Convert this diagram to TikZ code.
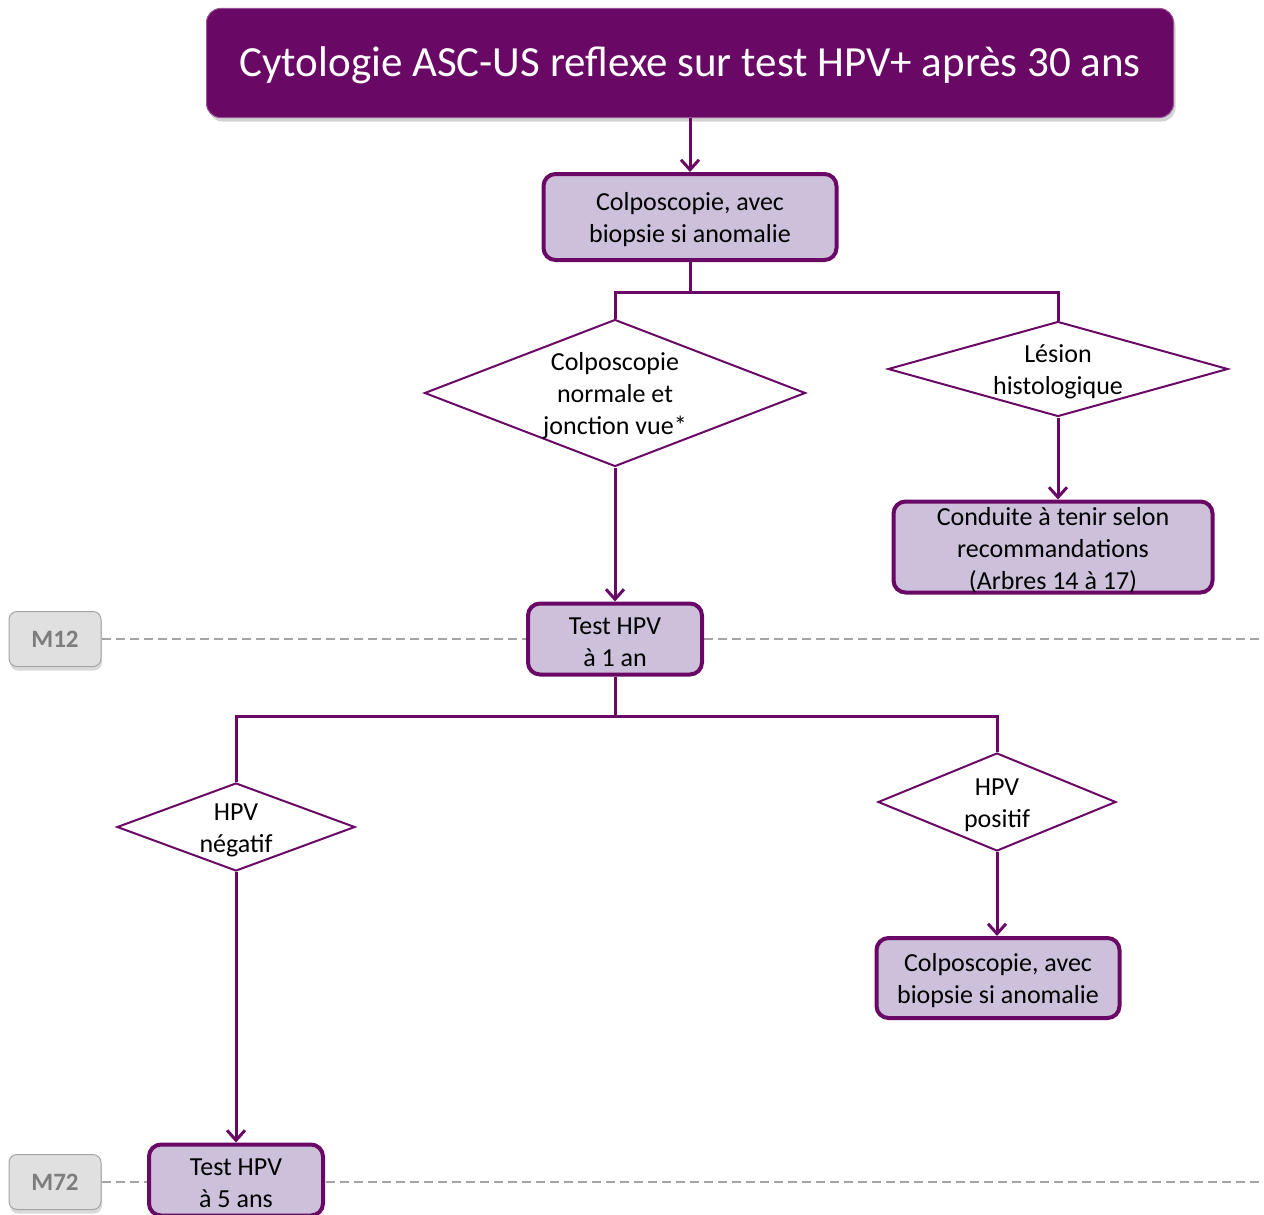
\documentclass[tikz,border=0pt]{standalone}
\usepackage{fontspec}
\setmainfont{Carlito}
\usetikzlibrary{shadows,arrows.meta,shapes.geometric}
\pgfdeclarelayer{background}
\pgfsetlayers{background,main}
\definecolor{violetfonce}{RGB}{106,8,102}
\definecolor{violetclair}{RGB}{204,192,218}
\definecolor{grisfond}{RGB}{224,224,224}
\definecolor{gristexte}{RGB}{125,125,125}
\tikzstyle{titre}=[draw=violetfonce!70!white, line width=1pt, fill=violetfonce, text=white,
	rounded corners=14pt, minimum width=967pt, minimum height=109pt,
	text height=37pt, text depth=9pt, font=\fontsize{43}{50}\selectfont,
	drop shadow={shadow xshift=2pt, shadow yshift=-4pt, opacity=0.35}]
\tikzstyle{etape}=[draw=violetfonce, line width=4pt, fill=violetclair, rounded corners=12pt,
	inner sep=0pt]
\tikzstyle{choix}=[draw=violetfonce, line width=2pt, fill=white, diamond, inner sep=0pt]
\tikzstyle{texte}=[align=center, inner sep=0pt, yshift=-3pt, font=\fontsize{26}{32}\selectfont]
\tikzstyle{mois}=[draw=gristexte!70, line width=1pt, fill=grisfond, rounded corners=8pt,
	minimum width=92pt, minimum height=55pt, text=gristexte,
	font=\fontsize{25}{30}\selectfont\bfseries,
	drop shadow={shadow xshift=1pt, shadow yshift=-4pt, opacity=0.3}]
\tikzstyle{trait}=[draw, line width=3pt, color=violetfonce]
\tikzstyle{ligne}=[trait, -{Straight Barb[length=10pt, width=18pt]}]
\tikzstyle{tirets}=[draw, line width=1.5pt, color=gristexte!70, dash pattern=on 9pt off 5pt]
\newcommand{\monEtape}[4]{node (p#1) [etape, minimum width=#2, minimum height=#3] {}
	node (t#1) at (p#1) [texte] {#4}}
\newcommand{\monChoix}[4]{node (p#1) [choix, minimum width=#2, minimum height=#3] {}
	node (t#1) at (p#1) [texte] {#4}}

\begin{document}
\begin{tikzpicture}[x=1pt, y=-1pt]
	\useasboundingbox (0,0) rectangle (1264,1215);
	\coordinate (bord) at (1264,0);

	\path (690,63) node (p1) [titre] {Cytologie ASC-US reflexe sur test HPV+ après 30 ans};
	\path (p1.south)+(0,99) \monEtape{2}{293pt}{86pt}{Colposcopie, avec\\ biopsie si anomalie};
	\path (p2.south)+(-75,131) \monChoix{3}{381pt}{147pt}{Colposcopie\\ normale et\\ jonction vue*};
	\path (p2.south)+(368,107) \monChoix{4}{340pt}{95pt}{Lésion\\ histologique};
	\path (p4.south)+(-5,129.5) \monEtape{5}{319pt}{91pt}{Conduite à tenir selon\\ recommandations\\ (Arbres 14 à 17)};
	\path (p3.south)+(0,171.5) \monEtape{6}{174pt}{71pt}{Test HPV\\ à 1 an};
	\path (p6.south)+(-379,150.5) \monChoix{7}{238pt}{88pt}{HPV\\ négatif};
	\path (p6.south)+(382,125.5) \monChoix{8}{238pt}{98pt}{HPV\\ positif};
	\path (p8.south)+(1,126) \monEtape{9}{243pt}{80pt}{Colposcopie, avec\\ biopsie si anomalie};
	\path (p7.south)+(0,308) \monEtape{10}{174pt}{71pt}{Test HPV\\ à 5 ans};

	\path (p6.west)+(-471,0) node (m12) [mois] {M12};
	\path (p10.west)+(-92,2) node (m72) [mois] {M72};

	% Draw arrows between elements
	\path [ligne] (p1.south) -- (p2.north);
	\path (p2.south)+(0,30) coordinate (b1);
	\path [trait] (p2.south) -- (b1);
	\path [trait] (b1) -| (p3.north);
	\path [trait] (b1) -| (p4.north);
	\path [ligne] (p4.south) -- (p4.south |- p5.north);
	\path [ligne] (p3.south) -- (p6.north);

	\path (p6.south)+(0,39.5) coordinate (b2);
	\path [trait] (p6.south) -- (b2);
	\path [trait] (b2) -| (p7.north);
	\path [trait] (b2) -| (p8.north);
	\path [ligne] (p8.south) -- (p8.south |- p9.north);
	\path [ligne] (p7.south) -- (p10.north);

	\begin{pgfonlayer}{background}
		\path [tirets] (m12.east) -- (m12.east -| bord);
		\path [tirets] (m72.east) -- (m72.east -| bord);
	\end{pgfonlayer}

\end{tikzpicture}
\end{document}
